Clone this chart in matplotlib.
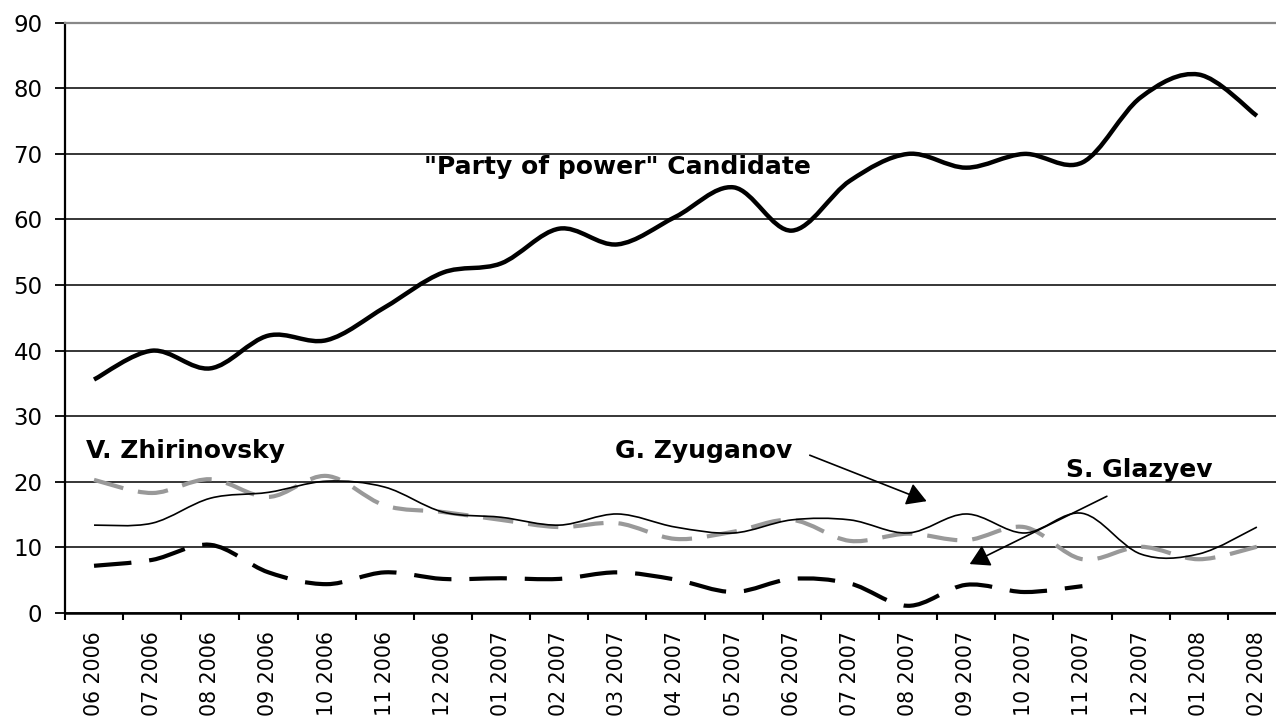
import numpy as np
import matplotlib
matplotlib.use("Agg")
import matplotlib.pyplot as plt
from matplotlib.path import Path
from matplotlib.patches import PathPatch

months = ["06 2006", "07 2006", "08 2006", "09 2006", "10 2006", "11 2006",
          "12 2006", "01 2007", "02 2007", "03 2007", "04 2007", "05 2007",
          "06 2007", "07 2007", "08 2007", "09 2007", "10 2007", "11 2007",
          "12 2007", "01 2008", "02 2008"]

party = [35.6, 40.0, 37.3, 42.3, 41.6, 46.6, 51.9, 53.3, 58.6, 56.2, 60.4,
         64.9, 58.3, 65.9, 70.0, 67.9, 70.0, 68.7, 78.6, 82.1, 75.8]
zyuganov = [13.4, 13.7, 17.5, 18.4, 20.1, 19.2, 15.4, 14.6, 13.4, 15.1, 13.1,
            12.2, 14.2, 14.2, 12.2, 15.1, 12.2, 15.2, 9.0, 9.0, 13.1]
zhirinovsky = [20.3, 18.3, 20.4, 17.7, 20.9, 16.4, 15.4, 14.2, 13.1, 13.7, 11.3,
               12.4, 14.2, 11.0, 12.1, 11.1, 13.1, 8.2, 10.1, 8.2, 10.1]
glazyev = [7.2, 8.1, 10.4, 6.2, 4.4, 6.2, 5.2, 5.3, 5.2, 6.2, 5.1,
           3.2, 5.2, 4.5, 1.1, 4.3, 3.2, 4.1]


def smooth_path(values):
    # excel-style smoothed line: catmull-rom segments as cubic beziers
    pts = np.column_stack([np.arange(len(values)), values]).astype(float)
    ext = np.vstack([pts[0], pts, pts[-1]])
    verts = [pts[0]]
    codes = [Path.MOVETO]
    for i in range(1, len(ext) - 2):
        p0, p1, p2, p3 = ext[i - 1], ext[i], ext[i + 1], ext[i + 2]
        verts += [p1 + (p2 - p0) / 6, p2 - (p3 - p1) / 6, p2]
        codes += [Path.CURVE4] * 3
    return Path(verts, codes)


def draw(ax, values, **kw):
    ax.add_patch(PathPatch(smooth_path(values), fill=False,
                           capstyle="butt", joinstyle="round", **kw))


fig = plt.figure(figsize=(12.76, 7.19), dpi=100)
ax = fig.add_axes([0.0509, 0.1474, 0.9569, 0.8210])

ax.set_xlim(-0.5, len(months) - 0.5)
ax.set_ylim(0, 90)

ax.set_yticks(range(0, 91, 10))
ax.yaxis.grid(True, color="black", linewidth=1.1)
ax.set_axisbelow(True)
ax.tick_params(axis="y", direction="out", length=7.2, width=1.3,
               labelsize=16.5, pad=9)

ax.set_xticks(range(len(months)))
ax.set_xticklabels(months, rotation=90, fontsize=14.8, va="top", ha="center")
ax.set_xticks(np.arange(-0.5, len(months), 1), minor=True)
ax.tick_params(axis="x", which="major", length=0, pad=13)
ax.tick_params(axis="x", which="minor", direction="out", length=5, width=1.5)

ax.spines["right"].set_visible(False)
ax.spines["top"].set_color("#888888")
ax.spines["top"].set_linewidth(1.6)
ax.spines["left"].set_linewidth(1.6)
ax.spines["bottom"].set_linewidth(1.8)

draw(ax, zhirinovsky, edgecolor="#999999", linewidth=3.0,
     linestyle=(0, (7.3, 3.6)))
draw(ax, glazyev, edgecolor="black", linewidth=3.0,
     linestyle=(0, (9.0, 4.3)))
draw(ax, zyuganov, edgecolor="black", linewidth=1.2)
draw(ax, party, edgecolor="black", linewidth=3.2)

bold = dict(fontsize=18, fontweight="bold", va="baseline", ha="left")
ax.text(5.67, 67.0, '"Party of power" Candidate', **bold)
ax.text(-0.14, 23.6, "V. Zhirinovsky", **bold)
ax.text(8.96, 23.6, "G. Zyuganov", **bold)
ax.text(16.71, 20.7, "S. Glazyev", **bold)

arrow = dict(arrowstyle="-|>,head_length=0.6,head_width=0.35", color="black",
             lw=1.2, shrinkA=0, shrinkB=0, mutation_scale=20)
ax.annotate("", xy=(14.32, 17.05), xytext=(12.31, 24.06), arrowprops=arrow)
ax.annotate("", xy=(15.06, 7.46), xytext=(17.42, 17.8), arrowprops=arrow)

fig.savefig("out.png", dpi=100)
